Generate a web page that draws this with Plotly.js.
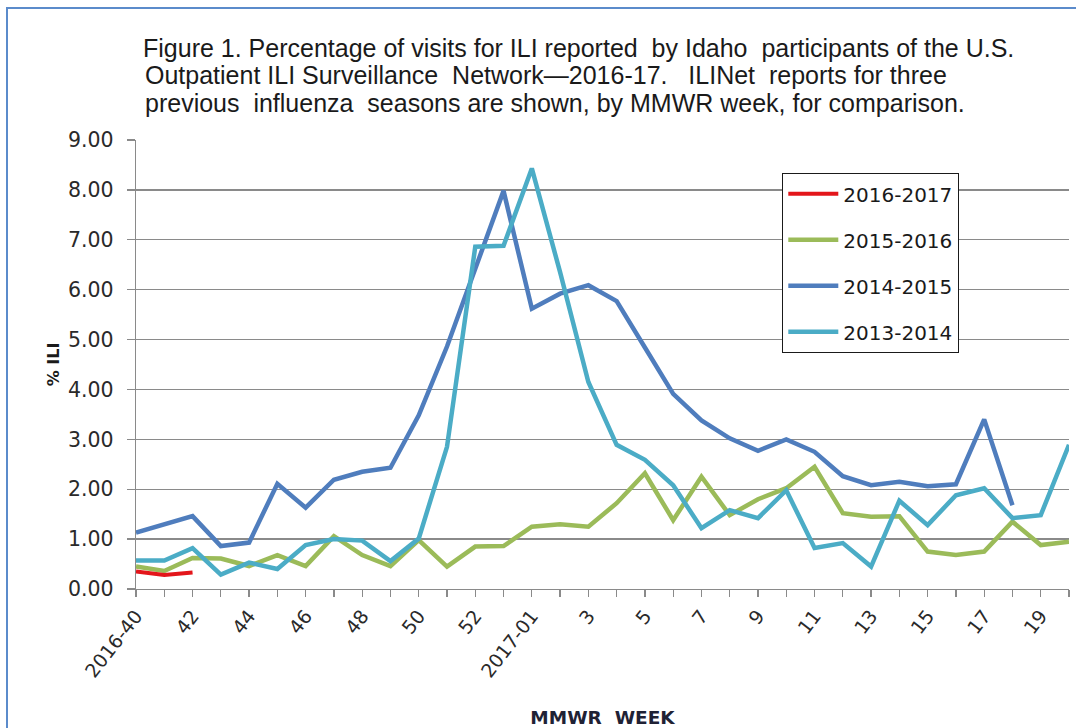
<!DOCTYPE html>
<html>
<head>
<meta charset="utf-8">
<script src="https://cdn.plot.ly/plotly-3.0.1.min.js"></script>
<style>
  html, body { margin: 0; padding: 0; background: #ffffff; }
  #chart { width: 1076px; height: 728px; }
</style>
</head>
<body>
<div id="chart"></div>
<script>
// MMWR week categories (2016 season has a week 53 slot)
const weeks = ["2016-40","41","42","43","44","45","46","47","48","49","50","51","52","53",
  "2017-01","2","3","4","5","6","7","8","9","10","11","12","13","14","15","16","17","18","19","20"];
const tickLabels = ["2016-40","","42","","44","","46","","48","","50","","52","",
  "2017-01","","3","","5","","7","","9","","11","","13","","15","","17","","19",""];

const season2016_17 = [0.35,0.28,0.33,null,null,null,null,null,null,null,null,null,null,null,
  null,null,null,null,null,null,null,null,null,null,null,null,null,null,null,null,null,null,null,null];
const season2015_16 = [0.45,0.36,0.62,0.61,0.46,0.68,0.46,1.06,0.68,0.46,0.98,0.45,0.85,0.86,
  1.25,1.30,1.25,1.72,2.32,1.38,2.25,1.48,1.80,2.02,2.45,1.52,1.45,1.46,0.75,0.68,0.75,1.35,0.88,0.95];
const season2014_15 = [1.13,1.30,1.46,0.86,0.93,2.11,1.63,2.19,2.35,2.43,3.48,4.86,6.45,7.98,
  5.62,5.92,6.09,5.77,4.84,3.91,3.38,3.02,2.77,3.00,2.75,2.26,2.08,2.15,2.06,2.10,3.40,1.68,null,null];
const season2013_14 = [0.57,0.57,0.82,0.29,0.53,0.40,0.88,1.00,0.97,0.56,1.01,2.85,6.86,6.88,
  8.43,6.35,4.15,2.89,2.59,2.08,1.22,1.58,1.42,1.98,0.82,0.92,0.45,1.77,1.28,1.88,2.02,1.42,1.48,2.89];

const yTicks = [0,1,2,3,4,5,6,7,8,9];
const yTickText = ["0.00","1.00","2.00","3.00","4.00","5.00","6.00","7.00","8.00","9.00"];

const titleLines = [
  "Figure 1. Percentage of visits for ILI reported  by Idaho  participants of the U.S.",
  "Outpatient ILI Surveillance  Network\u20142016-17.   ILINet  reports for three",
  "previous  influenza  seasons are shown, by MMWR week, for comparison."
];

function series(name, y, color, width, rank) {
  return {
    type: "scatter", mode: "lines", name: name, x: weeks, y: y,
    line: { color: color, width: width }, connectgaps: false,
    legendgroup: name, legendrank: rank, hoverinfo: "skip"
  };
}

const data = [
  series("2015-2016", season2015_16, "#9BBB59", 4.5, 2),
  series("2014-2015", season2014_15, "#4F7DBD", 4.5, 3),
  series("2013-2014", season2013_14, "#4BACC6", 4.5, 4),
  series("2016-2017", season2016_17, "#E3161B", 4, 1)
];

const gridGray = "#8A8A8A";
const titleFont = { family: "Liberation Sans, Arial, sans-serif", size: 25, color: "#1a1a1a" };
const W = 1076, H = 728;
const layout = {
  width: W, height: H,
  margin: { l: 136, r: 7, t: 140, b: 139 },
  paper_bgcolor: "#ffffff", plot_bgcolor: "#ffffff",
  showlegend: true,
  hovermode: false,
  title: {
    text: titleLines[0],
    x: 143 / W, xref: "container", xanchor: "left",
    y: 1 - 48 / H, yref: "container", yanchor: "middle",
    font: titleFont
  },
  annotations: [
    { text: titleLines[1], xref: "paper", yref: "paper",
      x: (143 - 136) / 933, y: (589 - 75) / 449, xanchor: "left", yanchor: "middle",
      showarrow: false, font: titleFont },
    { text: titleLines[2], xref: "paper", yref: "paper",
      x: (143 - 136) / 933, y: (589 - 103) / 449, xanchor: "left", yanchor: "middle",
      showarrow: false, font: titleFont }
  ],
  xaxis: {
    type: "category",
    categoryorder: "array", categoryarray: weeks,
    range: [0, weeks.length - 1],
    tickmode: "array", tickvals: weeks, ticktext: tickLabels,
    tickangle: -52,
    ticks: "outside", ticklen: 7, tickcolor: gridGray, tickwidth: 1.3,
    showline: true, linecolor: gridGray, linewidth: 1.3,
    showgrid: false, zeroline: false,
    tickfont: { family: "DejaVu Sans, Verdana, sans-serif", size: 19, color: "#2a2a2a" },
    title: { text: "<b>MMWR  WEEK</b>", standoff: 30,
      font: { family: "DejaVu Sans, Verdana, sans-serif", size: 18.5, color: "#1f2235" } },
    fixedrange: true
  },
  yaxis: {
    range: [0, 9],
    tickmode: "array", tickvals: yTicks, ticktext: yTickText,
    ticks: "outside", ticklen: 8, tickcolor: gridGray, tickwidth: 1.3,
    ticklabelstandoff: 9,
    showline: true, linecolor: gridGray, linewidth: 1.3,
    showgrid: true, gridcolor: gridGray, gridwidth: 1.3,
    zeroline: false,
    tickfont: { family: "DejaVu Sans, Verdana, sans-serif", size: 20.5, color: "#2a2a2a" },
    title: { text: "<b>% ILI</b>", standoff: 4,
      font: { family: "DejaVu Sans, Verdana, sans-serif", size: 16, color: "#1a1a1a" } },
    fixedrange: true
  },
  legend: {
    x: (782 - 136) / 933, y: (589 - 173) / 449,
    xanchor: "left", yanchor: "top",
    bgcolor: "#ffffff", bordercolor: "#1a1a1a", borderwidth: 1.3,
    traceorder: "grouped",
    tracegroupgap: 17,
    itemwidth: 50,
    font: { family: "DejaVu Sans, Verdana, sans-serif", size: 20, color: "#1a1a1a" }
  },
  shapes: [{
    type: "rect", xref: "paper", yref: "paper",
    x0: (7 - 136) / 933, x1: (1085 - 136) / 933,
    y0: (589 - 740) / 449, y1: (589 - 8) / 449,
    line: { color: "#5B8BCB", width: 2 }, fillcolor: "rgba(0,0,0,0)", layer: "below"
  }]
};

Plotly.newPlot("chart", data, layout, { displayModeBar: false, staticPlot: true });
</script>
</body>
</html>
